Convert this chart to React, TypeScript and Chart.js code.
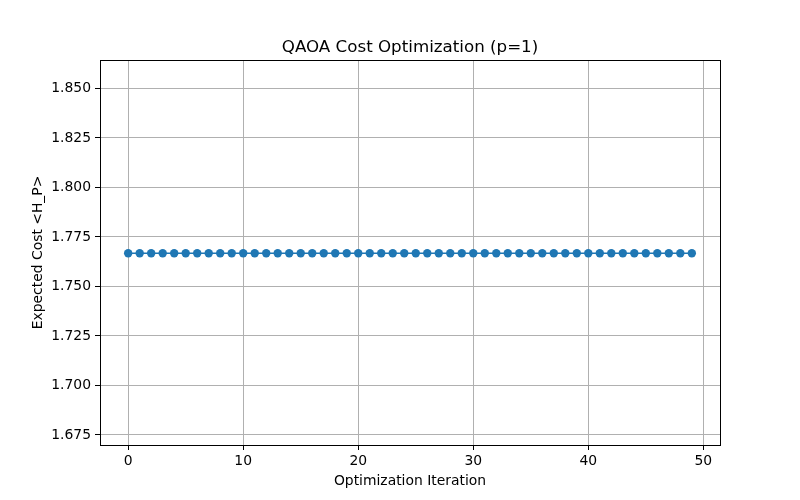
import React, { useEffect, useRef } from "react";
import { Chart, registerables } from "chart.js";

Chart.register(...registerables);

const iterations: number[] = Array.from({ length: 50 }, (_, i) => i);
const costValues: number[] = [
  1.7668, 1.7668, 1.7668, 1.7668, 1.7668, 1.7668, 1.7668, 1.7668, 1.7668, 1.7668,
  1.7668, 1.7668, 1.7668, 1.7668, 1.7668, 1.7668, 1.7668, 1.7668, 1.7668, 1.7668,
  1.7668, 1.7668, 1.7668, 1.7668, 1.7668, 1.7668, 1.7668, 1.7668, 1.7668, 1.7668,
  1.7668, 1.7668, 1.7668, 1.7668, 1.7668, 1.7668, 1.7668, 1.7668, 1.7668, 1.7668,
  1.7668, 1.7668, 1.7668, 1.7668, 1.7668, 1.7668, 1.7668, 1.7668, 1.7668, 1.7668,
];
const xTicks: number[] = [0, 10, 20, 30, 40, 50];
const yTicks: number[] = [1.675, 1.7, 1.725, 1.75, 1.775, 1.8, 1.825, 1.85];

const titleText = "QAOA Cost Optimization (p=1)";
const xLabel = "Optimization Iteration";
const yLabel = "Expected Cost <H_P>";

const FONT = "'DejaVu Sans', sans-serif";

export default function App() {
  const ref = useRef<HTMLCanvasElement | null>(null);

  useEffect(() => {
    document.body.style.margin = "0";
    const canvas = ref.current!;
    const framePlugin = {
      id: "frame",
      afterDraw(chart: any) {
        const { ctx, chartArea } = chart;
        const { left, right, top, bottom } = chartArea;
        ctx.save();
        ctx.strokeStyle = "#000";
        ctx.lineWidth = 1;
        ctx.strokeRect(left + 0.5, top + 0.5, right - left, bottom - top);
        ctx.fillStyle = "#000";
        ctx.textAlign = "center";
        ctx.textBaseline = "alphabetic";
        ctx.font = `16.7px ${FONT}`;
        ctx.fillText(titleText, (left + right) / 2, 52);
        ctx.font = `13.9px ${FONT}`;
        ctx.fillText(xLabel, (left + right) / 2, 485);
        ctx.translate(42, (top + bottom) / 2);
        ctx.rotate(-Math.PI / 2);
        ctx.fillText(yLabel, 0, 0);
        ctx.restore();
      },
    };

    const chart = new Chart(canvas, {
      type: "line",
      data: {
        datasets: [
          {
            data: iterations.map((x, i) => ({ x, y: costValues[i] })),
            borderColor: "#1f77b4",
            backgroundColor: "#1f77b4",
            borderWidth: 1.5,
            pointRadius: 4.2,
            pointBorderWidth: 0,
            pointBackgroundColor: "#1f77b4",
            fill: false,
            tension: 0,
          },
        ],
      },
      options: {
        animation: false,
        responsive: false,
        maintainAspectRatio: false,
        layout: { padding: { top: 60, right: 80, left: 0, bottom: 0 } },
        plugins: { legend: { display: false }, title: { display: false }, tooltip: { enabled: false } },
        scales: {
          x: {
            type: "linear",
            min: -2.45,
            max: 51.45,
            afterBuildTicks(scale: any) {
              scale.ticks = xTicks.map((v) => ({ value: v }));
            },
            afterFit(scale: any) {
              scale.height = 55;
            },
            grid: { color: "#b0b0b0", lineWidth: 1, tickLength: 5, tickColor: "#000", drawOnChartArea: true },
            border: { display: false },
            ticks: { color: "#000", font: { family: FONT, size: 13.9 }, padding: 3, maxRotation: 0, autoSkip: false },
          },
          y: {
            type: "linear",
            min: 1.6699,
            max: 1.8644,
            afterBuildTicks(scale: any) {
              scale.ticks = yTicks.map((v) => ({ value: v }));
            },
            afterFit(scale: any) {
              scale.width = 100;
            },
            grid: { color: "#b0b0b0", lineWidth: 1, tickLength: 5, tickColor: "#000" },
            border: { display: false },
            ticks: {
              color: "#000",
              font: { family: FONT, size: 13.9 },
              padding: 4,
              autoSkip: false,
              callback: (v: any) => Number(v).toFixed(3),
            },
          },
        },
      },
      plugins: [framePlugin],
    } as any);
    return () => chart.destroy();
  }, []);

  return (
    <div style={{ position: "absolute", left: 0, top: 0, width: 800, height: 500, background: "#fff" }}>
      <canvas ref={ref} width={800} height={500} style={{ width: 800, height: 500 }} />
    </div>
  );
}
